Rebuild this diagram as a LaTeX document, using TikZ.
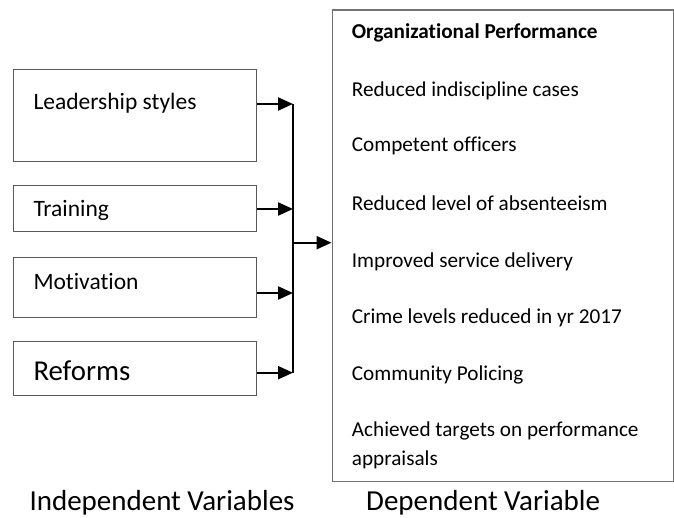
\documentclass[tikz,border=0pt]{standalone}
\usepackage{fontspec}
\setmainfont{Carlito}[Ligatures={NoCommon}]
\usetikzlibrary{arrows.meta}
\begin{document}
\begin{tikzpicture}[x=1pt,y=-1pt,
  ibox/.style={draw=black!65, line width=1.3pt, inner sep=0pt, anchor=north west, minimum width=243pt},
  dbox/.style={draw=black!55, line width=1.8pt, inner sep=0pt, anchor=north west, minimum width=341pt, minimum height=471pt},
  ltext/.style={anchor=base west, inner sep=0pt, font=\fontsize{23.5}{28}\selectfont},
  rtext/.style={anchor=base west, inner sep=0pt, font=\fontsize{21.2}{29}\selectfont},
  btext/.style={anchor=base west, inner sep=0pt, font=\fontsize{29}{34}\selectfont},
  arr/.style={line width=2.2pt, -{Triangle[length=15pt,width=13pt]}},
  bus/.style={line width=1.4pt, black}]
\useasboundingbox (0,0) rectangle (674,518);
% independent variable boxes
\node[ibox, minimum height=91.7pt] (lead) at (12.7,69) {};
\node[ibox, minimum height=46pt] (train) at (12.7,185) {};
\node[ibox, minimum height=60pt] (motiv) at (12.7,257) {};
\node[ibox, minimum height=54.3pt] (reform) at (12.7,340.7) {};
\node[ltext] (tlead) at (33.3,109.3) {Leadership styles};
\node[ltext] (ttrain) at (33.3,216.7) {Training};
\node[ltext] (tmotiv) at (33.3,290) {Motivation};
\node[ltext, font=\fontsize{28.8}{34}\selectfont] (treform) at (33.3,380) {Reforms};
% dependent variable box
\node[dbox] (dep) at (331.5,9.5) {};
\node[rtext, font=\bfseries\fontsize{21.2}{29}\selectfont] (r0) at (351.7,39) {Organizational Performance};
\node[rtext] (r1) at (351.7,96.7) {Reduced indiscipline cases};
\node[rtext] (r2) at (351.7,152) {Competent officers};
\node[rtext] (r3) at (351.7,210.7) {Reduced level of absenteeism};
\node[rtext] (r4) at (351.7,267.5) {Improved service delivery};
\node[rtext] (r5) at (351.7,323.5) {Crime levels reduced in yr 2017};
\node[rtext] (r6) at (351.7,380) {Community Policing};
\node[rtext] (r7) at (351.7,436.7) {Achieved targets on performance};
\node[rtext] (r7b) at (351.7,465.7) {appraisals};
% junctions
\coordinate (j1) at (293,104);
\coordinate (j2) at (293,209);
\coordinate (j3) at (293,293);
\coordinate (j4) at (293,372.7);
\coordinate (jo) at (293,242.7);
\draw[bus] (j1) -- (j4);
\draw[arr] (lead.east |- j1) -- (j1);
\draw[arr] (train.east |- j2) -- (j2);
\draw[arr] (motiv.east |- j3) -- (j3);
\draw[arr] (reform.east |- j4) -- (j4);
\draw[arr] (jo) -- (dep.west |- jo);
% labels
\node[btext] (indep) at (29.3,510.5) {Independent Variables};
\node[btext] (depl) at (366,510.5) {Dependent Variable};
\end{tikzpicture}
\end{document}
